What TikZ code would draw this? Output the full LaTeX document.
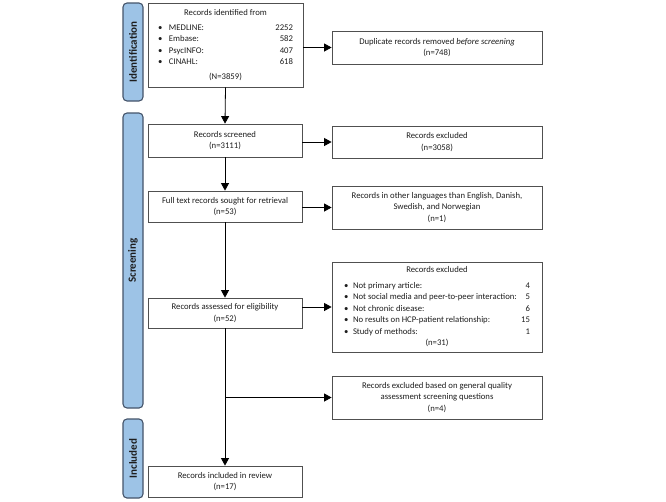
\documentclass[tikz,border=0pt]{standalone}
\usepackage{fontspec}
\setmainfont{Carlito}
\usetikzlibrary{arrows.meta}
\definecolor{boxline}{RGB}{80,80,80}
\definecolor{txt}{RGB}{30,30,30}
\definecolor{barfill}{RGB}{157,195,230}
\definecolor{barline}{RGB}{68,84,106}
\newcommand{\idrow}[2]{\makebox[135pt][l]{\makebox[11pt][l]{\textbullet}#1\hfill #2}}
\newcommand{\exrow}[2]{\makebox[186pt][l]{\makebox[9pt][l]{\textbullet}#1\hfill #2}}
\begin{document}
\begin{tikzpicture}[x=1pt,y=-1pt,
  box/.style={draw=boxline, line width=0.8pt, fill=white, align=center, text=txt,
    font=\fontsize{8.7}{11.5}\selectfont, inner sep=0pt},
  stagebar/.style={draw=barline, line width=1.1pt, fill=barfill, rounded corners=4pt,
    rotate=90, minimum height=20pt, inner sep=0pt, text=txt,
    font=\fontsize{11}{12}\selectfont\bfseries},
  arr/.style={-{Triangle[length=7.5pt,width=8pt]}, line width=0.8pt, black}]
\useasboundingbox (0,0) rectangle (666,501);
% stage bars
\node[stagebar, minimum width=98pt] (sid) at (133,52) {Identification};
\node[stagebar, minimum width=295pt] (ssc) at (133,260.5) {Screening};
\node[stagebar, minimum width=79pt] (sin) at (133,458.5) {Included};
% boxes
\node[box, minimum width=155pt, minimum height=84pt] (id) at (225.5,45)
  {Records identified from\\[3pt]
   \idrow{MEDLINE:}{2252}\\
   \idrow{Embase:}{582}\\
   \idrow{PsycINFO:}{407}\\
   \idrow{CINAHL:}{618}\\[3pt]
   (N=3859)};
\node[box, minimum width=210pt, minimum height=33pt] (dup) at (437,47.5)
  {Duplicate records removed \textit{before screening}\\(n=748)};
\node[box, minimum width=154pt, minimum height=33pt] (scr) at (225,140.5)
  {Records screened\\(n=3111)};
\node[box, minimum width=210pt, minimum height=32pt] (exc1) at (437,142)
  {Records excluded\\(n=3058)};
\node[box, minimum width=154pt, minimum height=31pt] (ft) at (225,206.5)
  {Full text records sought for retrieval\\(n=53)};
\node[box, minimum width=210pt, minimum height=43pt] (lang) at (437,207.5)
  {Records in other languages than English, Danish,\\Swedish, and Norwegian\\(n=1)};
\node[box, minimum width=154pt, minimum height=30pt] (ass) at (225,313)
  {Records assessed for eligibility\\(n=52)};
\node[box, minimum width=210pt, minimum height=90pt] (exc2) at (437,307)
  {Records excluded\\[4pt]
   \exrow{Not primary article:}{4}\\
   \exrow{Not social media and peer-to-peer interaction:}{5}\\
   \exrow{Not chronic disease:}{6}\\
   \exrow{No results on HCP-patient relationship:}{15}\\
   \exrow{Study of methods:}{1}\\
   (n=31)};
\node[box, minimum width=210pt, minimum height=43pt] (qual) at (437,397.5)
  {Records excluded based on general quality\\assessment screening questions\\(n=4)};
\node[box, minimum width=154pt, minimum height=31pt] (inc) at (225,481.5)
  {Records included in review\\(n=17)};
% connectors
\draw[arr] (id.south) -- (scr.north);
\draw[arr] (scr.south) -- (ft.north);
\draw[arr] (ft.south) -- (ass.north);
\draw[arr] (ass.south) -- (inc.north);
\draw[arr] (id.east |- dup.west) -- (dup.west);
\draw[arr] (scr.east |- exc1.west) -- (exc1.west);
\draw[arr] (ft.east |- lang.west) -- (lang.west);
\draw[arr] (ass.east |- exc2.west) -- (exc2.west);
\coordinate (br) at (ass.south |- qual.west);
\draw[arr] (br) -- (qual.west);
\end{tikzpicture}
\end{document}
